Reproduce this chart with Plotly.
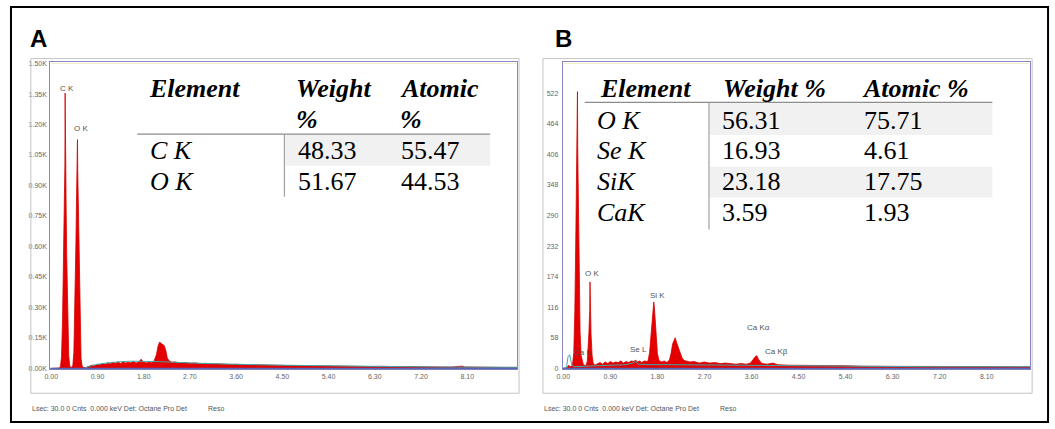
import plotly.graph_objects as go

W, H = 1055, 429

# ---------------- Data: spectrum A ----------------
energy_a = [0.00, 0.05, 0.10, 0.14, 0.16, 0.18, 0.20, 0.22, 0.24, 0.25, 0.26, 0.265, 0.27, 0.275,
            0.28, 0.29, 0.30, 0.32, 0.34, 0.36, 0.38, 0.40, 0.42, 0.44, 0.46, 0.48, 0.49, 0.50,
            0.505, 0.51, 0.515, 0.52, 0.53, 0.54, 0.56, 0.58, 0.60, 0.62, 0.66, 0.70, 0.75, 0.80,
            0.85, 0.90, 0.95, 1.00, 1.05, 1.10, 1.15, 1.20, 1.25, 1.30, 1.35, 1.40, 1.45, 1.50,
            1.55, 1.60, 1.65, 1.70, 1.75, 1.80, 1.85, 1.90, 1.95, 2.00, 2.05, 2.08, 2.11, 2.14,
            2.17, 2.20, 2.23, 2.26, 2.30, 2.35, 2.40, 2.50, 2.60, 2.70, 2.80, 2.90, 3.00, 3.10,
            3.20, 3.30, 3.40, 3.50, 3.60, 3.70, 3.80, 3.90, 4.00, 4.20, 4.40, 4.60, 4.80, 5.00,
            5.20, 5.40, 5.60, 5.80, 6.00, 6.20, 6.40, 6.60, 6.80, 7.00, 7.20, 7.40, 7.60, 7.80,
            7.95, 8.00, 8.05, 8.20, 8.40, 8.60, 8.80, 9.00, 9.07]
counts_a = [0, 0, 0, 0, 2, 10, 60, 250, 600, 800, 960, 1000, 1355, 1000,
            950, 780, 560, 230, 60, 12, 5, 5, 15, 80, 300, 620, 800, 950,
            1000, 1126, 980, 900, 720, 500, 200, 50, 12, 5, 3, 8, 12, 16,
            14, 20, 18, 24, 20, 27, 22, 30, 25, 31, 24, 33, 26, 30,
            27, 35, 26, 31, 45, 30, 27, 32, 28, 35, 70, 110, 130, 122,
            118, 112, 88, 50, 36, 30, 32, 27, 29, 25, 27, 23, 25, 22,
            23, 21, 22, 19, 20, 18, 19, 17, 18, 16, 16, 14, 14, 13,
            12, 12, 11, 11, 10, 9, 10, 9, 8, 8, 8, 7, 7, 7,
            8, 11, 7, 6, 6, 6, 5, 5, 5]
bgfit_energy_a = [0.65, 0.80, 0.95, 1.10, 1.30, 1.50, 1.70, 1.90, 2.10, 2.40, 2.70, 3.00, 3.50,
                  4.00, 5.00, 6.00, 7.00, 8.00, 9.07]
bgfit_counts_a = [2, 14, 22, 27, 32, 35, 35, 34, 33, 30, 27, 24, 21, 18, 14, 11, 8, 6, 5]

# ---------------- Data: spectrum B ----------------
energy_b = [0.00, 0.05, 0.08, 0.10, 0.12, 0.14, 0.16, 0.18, 0.20, 0.22, 0.24, 0.25, 0.26, 0.265,
            0.27, 0.275, 0.28, 0.29, 0.30, 0.32, 0.34, 0.36, 0.38, 0.40, 0.44, 0.46, 0.48, 0.49,
            0.50, 0.505, 0.51, 0.515, 0.52, 0.53, 0.55, 0.57, 0.60, 0.65, 0.70, 0.75, 0.80, 0.85,
            0.90, 0.95, 1.00, 1.05, 1.10, 1.15, 1.20, 1.25, 1.30, 1.35, 1.38, 1.42, 1.46, 1.50,
            1.55, 1.60, 1.62, 1.65, 1.68, 1.70, 1.72, 1.73, 1.74, 1.76, 1.78, 1.80, 1.83, 1.88,
            1.93, 1.98, 2.03, 2.06, 2.09, 2.12, 2.14, 2.17, 2.20, 2.23, 2.27, 2.31, 2.36, 2.42,
            2.50, 2.60, 2.70, 2.80, 2.90, 3.00, 3.10, 3.20, 3.30, 3.40, 3.50, 3.58, 3.63, 3.67,
            3.70, 3.74, 3.80, 3.90, 4.01, 4.10, 4.30, 4.50, 4.80, 5.10, 5.40, 5.70, 6.00, 6.30,
            6.60, 7.00, 7.40, 7.80, 8.20, 8.60, 8.93]
counts_b = [0, 0, 2, 6, 4, 3, 5, 10, 30, 110, 260, 340, 400, 420,
            525, 420, 380, 300, 200, 70, 25, 15, 8, 6, 6, 15, 40, 70,
            100, 110, 164, 110, 95, 65, 25, 10, 6, 9, 11, 8, 12, 9,
            13, 10, 12, 11, 14, 10, 13, 11, 14, 13, 16, 12, 14, 11,
            14, 13, 14, 30, 70, 105, 120, 126, 118, 90, 55, 28, 15, 12,
            14, 11, 16, 28, 46, 56, 58, 48, 40, 30, 20, 15, 13, 12,
            13, 10, 12, 10, 11, 9, 10, 9, 8, 9, 8, 10, 17, 22,
            24, 16, 9, 8, 10, 7, 6, 6, 5, 5, 5, 4, 4, 4,
            4, 4, 3, 3, 3, 3, 3]
bgfit_energy_b = [0.00, 0.06, 0.09, 0.12, 0.16, 0.20, 0.40, 0.80, 1.20, 1.33, 1.38, 1.43, 1.60,
                  2.00, 3.00, 4.00, 5.00, 6.00, 7.00, 8.00, 8.93]
bgfit_counts_b = [0, 2, 22, 26, 8, 3, 4, 6, 7, 10, 14, 8, 7, 7, 6, 5, 4, 4, 3, 3, 3]

# ---------------- Tick labels ----------------
xtick_vals = [0.0, 0.9, 1.8, 2.7, 3.6, 4.5, 5.4, 6.3, 7.2, 8.1]
xtick_text = ["0.00", "0.90", "1.80", "2.70", "3.60", "4.50", "5.40", "6.30", "7.20", "8.10"]
ytick_vals_a = [0, 150, 300, 450, 600, 750, 900, 1050, 1200, 1350, 1500]
ytick_text_a = ["0.00K", "0.15K", "0.30K", "0.45K", "0.60K", "0.75K", "0.90K", "1.05K",
                "1.20K", "1.35K", "1.50K"]
ytick_vals_b = [0, 58, 116, 174, 232, 290, 348, 406, 464, 522]
ytick_text_b = ["0", "58", "116", "174", "232", "290", "348", "406", "464", "522"]

# ---------------- Tables ----------------
table_a_header = ["Element", "Weight", "Atomic"]
table_a_elements = ["C K", "O K"]
table_a_weight = ["48.33", "51.67"]
table_a_atomic = ["55.47", "44.53"]

table_b_header = ["Element", "Weight %", "Atomic %"]
table_b_elements = ["O K", "Se K", "SiK", "CaK"]
table_b_weight = ["56.31", "16.93", "23.18", "3.59"]
table_b_atomic = ["75.71", "4.61", "17.75", "1.93"]

peak_labels_a = [("C K", 61, 88), ("O K", 75, 128)]
peak_labels_b = [("O K", 589, 274), ("Si K", 655, 297), ("Ca Kα", 757, 329),
                 ("Ca Kβ", 775, 353), ("Se L", 636, 351), ("Ca L", 580, 354)]


def px(x):
    return x / W


def py(y):
    return 1 - y / H


RED_FILL = "rgb(228,0,0)"
RED_LINE = "rgb(215,0,0)"
TEAL = "rgb(60,170,170)"

fig = go.Figure()
fig.add_trace(go.Scatter(x=energy_a, y=counts_a, mode="lines", fill="tozeroy",
                         fillcolor=RED_FILL, line=dict(color=RED_LINE, width=0.8),
                         xaxis="x", yaxis="y", hoverinfo="skip", showlegend=False))
fig.add_trace(go.Scatter(x=bgfit_energy_a, y=bgfit_counts_a, mode="lines",
                         line=dict(color=TEAL, width=1, shape="spline"),
                         xaxis="x", yaxis="y", hoverinfo="skip", showlegend=False))
fig.add_trace(go.Scatter(x=energy_b, y=counts_b, mode="lines", fill="tozeroy",
                         fillcolor=RED_FILL, line=dict(color=RED_LINE, width=0.8),
                         xaxis="x2", yaxis="y2", hoverinfo="skip", showlegend=False))
fig.add_trace(go.Scatter(x=bgfit_energy_b, y=bgfit_counts_b, mode="lines",
                         line=dict(color=TEAL, width=1),
                         xaxis="x2", yaxis="y2", hoverinfo="skip", showlegend=False))

SERIF = "Liberation Serif"
SANS = "Liberation Sans"
tickfont = dict(family=SANS, size=7, color="#666")
axis_common = dict(showgrid=False, zeroline=False, showline=True, linecolor="#8a86c4",
                   linewidth=1, mirror=True, ticks="", tickfont=tickfont, fixedrange=True)

fig.update_layout(
    width=W, height=H, margin=dict(l=0, r=0, t=0, b=0),
    paper_bgcolor="white", plot_bgcolor="white",
    xaxis=dict(domain=[px(44.5), px(514)], range=[-0.02, 9.07], anchor="y",
               tickvals=xtick_vals, ticktext=xtick_text, **axis_common),
    yaxis=dict(domain=[py(371), py(61)], range=[-5, 1510], anchor="x",
               tickvals=ytick_vals_a, ticktext=ytick_text_a, ticklabelstandoff=1,
               **axis_common),
    xaxis2=dict(domain=[px(560), px(1030)], range=[-0.01, 8.93], anchor="y2",
                tickvals=xtick_vals, ticktext=xtick_text, **axis_common),
    yaxis2=dict(domain=[py(371), py(61)], range=[-2, 582], anchor="x2",
                tickvals=ytick_vals_b, ticktext=ytick_text_b, ticklabelstandoff=2,
                **axis_common),
)

shapes = []
# Outer black frame
shapes.append(dict(type="rect", xref="paper", yref="paper", x0=px(5), x1=px(1048),
                   y0=py(424), y1=py(6), line=dict(color="black", width=2)))
# Gray panel boxes
for x0, x1 in [(25, 516), (540, 1032)]:
    shapes.append(dict(type="rect", xref="paper", yref="paper", x0=px(x0), x1=px(x1),
                       y0=py(395), y1=py(58), line=dict(color="#c4c4c4", width=1)))
# Blue baseline lines
for x0, x1 in [(44.5, 514), (560, 1030)]:
    shapes.append(dict(type="line", xref="paper", yref="paper", x0=px(x0), x1=px(x1),
                       y0=py(370), y1=py(370), line=dict(color="#5a64b4", width=1.5)))
    shapes.append(dict(type="line", xref="paper", yref="paper", x0=px(x0 + 1), x1=px(x1 - 1),
                       y0=py(63), y1=py(63), line=dict(color="#f4f0c8", width=1)))

# Table A shapes
shapes.append(dict(type="rect", xref="paper", yref="paper", x0=px(281), x1=px(487),
                   y0=py(166), y1=py(135), fillcolor="#f1f1f1", line=dict(width=0), layer="below"))
shapes.append(dict(type="line", xref="paper", yref="paper", x0=px(132), x1=px(487),
                   y0=py(134), y1=py(134), line=dict(color="#8c8c8c", width=1.2)))
shapes.append(dict(type="line", xref="paper", yref="paper", x0=px(280), x1=px(280),
                   y0=py(134), y1=py(197), line=dict(color="#a0a0a0", width=1.2)))
# Table B shapes
for y0, y1 in [(103, 135), (167, 198)]:
    shapes.append(dict(type="rect", xref="paper", yref="paper", x0=px(708), x1=px(992),
                       y0=py(y1), y1=py(y0), fillcolor="#f1f1f1", line=dict(width=0),
                       layer="below"))
shapes.append(dict(type="line", xref="paper", yref="paper", x0=px(582), x1=px(992),
                   y0=py(102), y1=py(102), line=dict(color="#8c8c8c", width=1.2)))
shapes.append(dict(type="line", xref="paper", yref="paper", x0=px(707), x1=px(707),
                   y0=py(102), y1=py(230), line=dict(color="#a0a0a0", width=1.2)))

fig.update_layout(shapes=shapes)

ann = []


def text(t, x, y, size, family=SERIF, color="black", xanchor="left"):
    ann.append(dict(text=t, x=px(x), y=py(y), xref="paper", yref="paper", showarrow=False,
                    xanchor=xanchor, yanchor="middle", font=dict(family=family, size=size,
                                                                 color=color)))


# Panel letters
text("<b>A</b>", 22, 38, 24, family=SANS)
text("<b>B</b>", 550, 38, 24, family=SANS)

# Table A
text("<b><i>" + table_a_header[0] + "</i></b>", 142, 88, 26)
text("<b><i>" + table_a_header[1] + "</i></b>", 290, 88, 26)
text("<b><i>" + table_a_header[2] + "</i></b>", 394, 88, 26)
text("<b><i>%</i></b>", 290, 119, 26)
text("<b><i>%</i></b>", 394, 119, 26)
for i, (el, w, a) in enumerate(zip(table_a_elements, table_a_weight, table_a_atomic)):
    y = 151 + i * 31
    text("<i>" + el + "</i>", 143, y, 26)
    text(w, 292, y, 26)
    text(a, 395, y, 26)

# Table B
text("<b><i>" + table_b_header[0] + "</i></b>", 595, 88, 26)
text("<b><i>" + table_b_header[1] + "</i></b>", 719, 88, 26)
text("<b><i>" + table_b_header[2] + "</i></b>", 859, 88, 26)
for i, (el, w, a) in enumerate(zip(table_b_elements, table_b_weight, table_b_atomic)):
    y = 120 + i * 31
    text("<i>" + el + "</i>", 592, y, 26)
    text(w, 718, y, 26)
    text(a, 861, y, 26)

# Peak labels
for t, x, y in peak_labels_a + peak_labels_b:
    text(t, x, y, 8, family=SANS, color="#555", xanchor="center")

# Footers
footer = "Lsec: 30.0 0 Cnts  0.000 keV Det: Octane Pro Det"
for x0 in (24, 539):
    text(footer, x0, 410, 7, family=SANS, color="#555")
    text("Reso", x0 + 177, 410, 7, family=SANS, color="#555")

fig.update_layout(annotations=ann)
fig.write_html("out.html", config={"displayModeBar": False},
               post_script="document.body.style.margin='0px';"
                           "document.body.style.overflow='hidden';")
